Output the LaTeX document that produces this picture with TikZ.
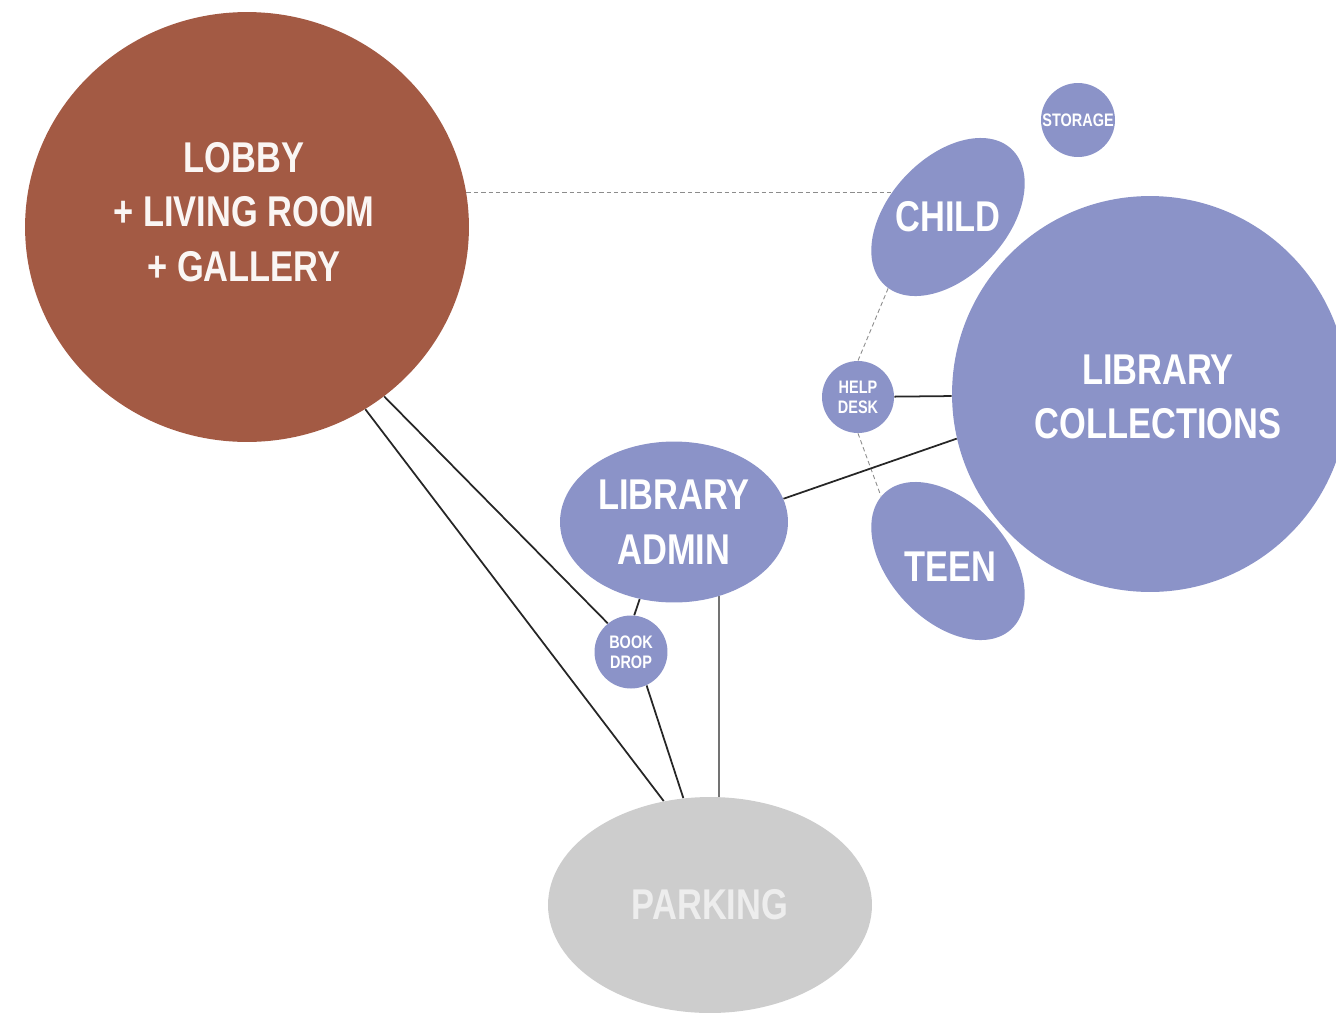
\documentclass[tikz,border=0pt]{standalone}
\usepackage{fontspec}
\newfontfamily\narrowfont{Liberation Sans}[FakeStretch=0.8]
\usetikzlibrary{shapes.geometric,backgrounds}

\definecolor{brick}{RGB}{163,90,68}
\definecolor{lavender}{RGB}{139,147,200}
\definecolor{pavement}{RGB}{205,205,205}
\definecolor{chalk}{RGB}{250,246,244}

\begin{document}
\begin{tikzpicture}[x=0.02cm, y=-0.02cm,
  room/.style = {ellipse, fill=lavender, inner sep=0pt},
  corner/.style = {circle, fill=lavender, inner sep=0pt, text=white,
                   align=center, font=\narrowfont\bfseries\fontsize{10.3}{11.5}\selectfont},
  bigtext/.style = {text=white, align=center,
                    font=\narrowfont\bfseries\fontsize{24.5}{31}\selectfont},
  link/.style = {draw=black!85, line width=1pt},
  hint/.style = {draw=black!45, line width=0.5pt, dash pattern=on 2.5pt off 1.7pt},
  ]
  \path[use as bounding box, clip] (0,0) rectangle (1336,1015);

  % big rooms
  \node (lobby) [ellipse, fill=brick, inner sep=0pt,
                 minimum width=8.88cm, minimum height=8.6cm] at (247,227) {};
  \node (lobbytext) [bigtext, text=chalk] at (244,212) {LOBBY\\+ LIVING ROOM\\+ GALLERY};
  \node (coll) [circle, fill=lavender, inner sep=0pt, minimum size=7.92cm,
                bigtext] at (1150,394) {};
  \node (colltext) [bigtext] at (1158,397) {LIBRARY\\COLLECTIONS};

  % library wings
  \node (child) [room, minimum width=3.72cm, minimum height=2.36cm, rotate=47] at (948,217) {};
  \node (childtext) [bigtext] at (948,217) {CHILD};
  \node (teen) [room, minimum width=3.72cm, minimum height=2.36cm, rotate=-47] at (948,561) {};
  \node (teentext) [bigtext] at (950,567) {TEEN};
  \node (admin) [room, minimum width=4.56cm, minimum height=3.22cm, bigtext] at (674,522)
        {LIBRARY\\ADMIN};
  \node (park) [ellipse, fill=pavement, inner sep=0pt, minimum width=6.48cm,
                minimum height=4.32cm, bigtext, text=black!7] at (710,905) {PARKING};

  % small spaces
  \node (storage) [corner, minimum size=1.48cm] at (1078,120) {STORAGE};
  \node (help) [corner, minimum size=1.44cm] at (858,397) {HELP\\DESK};
  \node (book) [corner, minimum size=1.46cm] at (631,652) {BOOK\\DROP};

  \begin{scope}[on background layer]
    \draw[hint] (lobby.9) -- (lobby.9 -| child.center);
    \draw[hint] (child.183) -- (help.north);
    \draw[hint] (help.south) -- (teen.183);
    \draw[link] (help) -- (coll);
    \draw[link] (admin.12) -- (coll.193);
    \draw[link] (lobby.-51) -- (book.129);
    \draw[link] (lobby.-57) -- (park.114);
    \draw[link] (book.-65) -- (park.104);
    \draw[link] (admin.-114) -- (book.85);
    \draw[draw=black!55, line width=1.3pt] (admin.-59) -- (admin.-59 |- park.north);
  \end{scope}
\end{tikzpicture}
\end{document}
